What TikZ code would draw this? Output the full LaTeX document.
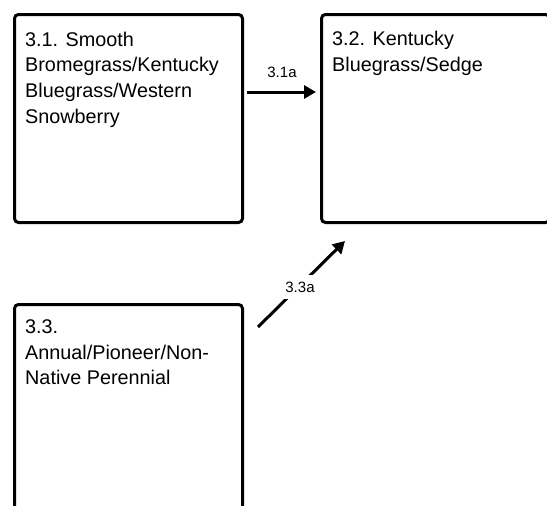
\documentclass[tikz,border=0pt]{standalone}
\usepackage{fontspec}
\setmainfont{Liberation Sans}
\usetikzlibrary{arrows.meta}
\begin{document}
\begin{tikzpicture}[x=1pt,y=-1pt,
  statebox/.style={draw=black, line width=3pt, rounded corners=4pt, minimum width=228pt, minimum height=208pt, inner sep=0pt, anchor=north west},
  boxtext/.style={font=\fontsize{19.8}{25.7}\selectfont, align=left, anchor=north west, inner sep=0pt},
  trans/.style={line width=3pt, -{Triangle[length=12pt,width=13pt]}},
  translabel/.style={font=\fontsize{15}{17}\selectfont, inner sep=1pt},
  cutlabel/.style={translabel, fill=white, inner xsep=2pt, inner ysep=7pt}]
\useasboundingbox (0,0) rectangle (547,506);
\fill[white] (0,0) rectangle (547,506);
\node[statebox] (b1) at (13,13) {};
\node[statebox] (b2) at (320,13) {};
\node[statebox] (b3) at (13,303) {};
\node[boxtext] (t1) at (25,31.5) {3.1. Smooth\\Bromegrass/Kentucky\\Bluegrass/Western\\Snowberry};
\node[boxtext] (t2) at (332,31) {3.2. Kentucky\\Bluegrass/Sedge};
\node[boxtext] (t3) at (25,319.5) {3.3.\\Annual/Pioneer/Non-\\Native Perennial};
\coordinate (s1) at (247,92);
\coordinate (e1) at (316,92);
\coordinate (s2) at (258,327);
\coordinate (e2) at (345,241);
\draw[trans] (s1) -- (e1);
\node[translabel] (l1) at (282,72) {3.1a};
\draw[trans] (s2) -- (e2);
\node[cutlabel] (l2) at (300,287) {3.3a};
\end{tikzpicture}
\end{document}
